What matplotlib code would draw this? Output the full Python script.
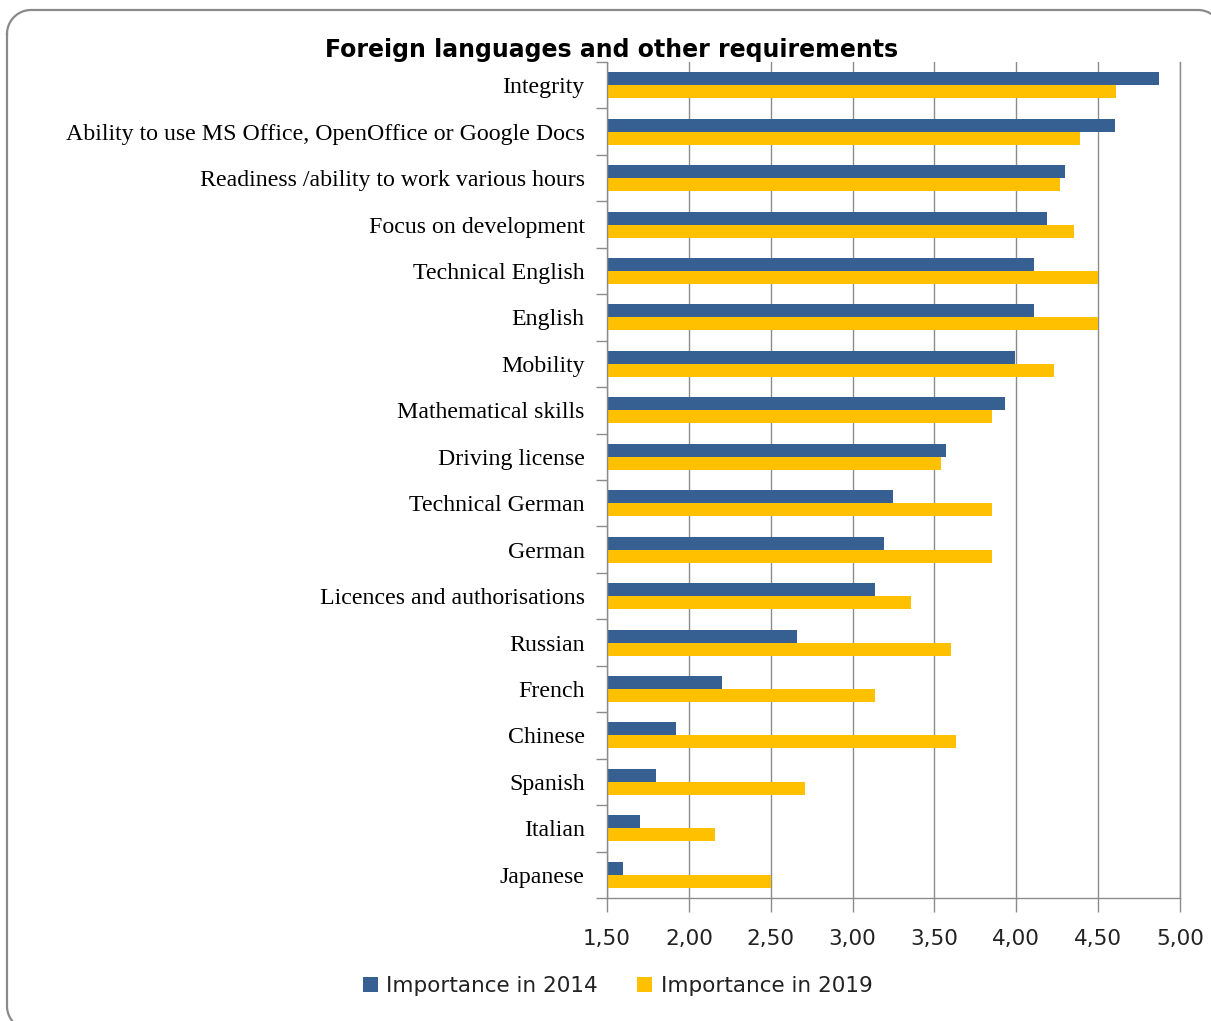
import numpy as np
import matplotlib
matplotlib.use('Agg')
import matplotlib.pyplot as plt
from matplotlib.lines import Line2D

# --------- data (top to bottom as listed)
categories = [
    'Integrity',
    'Ability to use MS Office, OpenOffice or Google Docs',
    'Readiness /ability to work various hours',
    'Focus on development',
    'Technical English',
    'English',
    'Mobility',
    'Mathematical skills',
    'Driving license',
    'Technical German',
    'German',
    'Licences and authorisations',
    'Russian',
    'French',
    'Chinese',
    'Spanish',
    'Italian',
    'Japanese',
]
importance_2014 = [4.87, 4.60, 4.30, 4.19, 4.11, 4.11, 3.99, 3.93, 3.57, 3.25, 3.19,
                   3.14, 2.66, 2.20, 1.92, 1.80, 1.70, 1.60]
importance_2019 = [4.61, 4.39, 4.27, 4.35, 4.50, 4.50, 4.23, 3.85, 3.54, 3.85, 3.85,
                   3.36, 3.60, 3.14, 3.63, 2.71, 2.16, 2.50]
x_ticks = [1.5, 2.0, 2.5, 3.0, 3.5, 4.0, 4.5, 5.0]
series_labels = ['Importance in 2014', 'Importance in 2019']

blue = '#376092'
yellow = '#ffc000'
grid_gray = '#8c8c8c'

W, H = 1211, 1021
fig = plt.figure(figsize=(W / 100, H / 100), dpi=100)
ax = fig.add_axes([0.5012, 0.1205, 0.4732, 0.8188])

n = len(categories)
y = np.arange(n)[::-1] + 0.5
h = 0.28
base = 1.5
ax.barh(y + h / 2, np.array(importance_2014) - base, left=base, height=h,
        color=blue, label=series_labels[0])
ax.barh(y - h / 2, np.array(importance_2019) - base, left=base, height=h,
        color=yellow, label=series_labels[1])

ax.set_xlim(1.5, 5.0)
ax.set_ylim(0, n)
ax.set_xticks(x_ticks)
ax.set_xticklabels([f'{t:.2f}'.replace('.', ',') for t in x_ticks],
                   fontsize=15.5, color='#222222')
ax.tick_params(axis='x', length=10, width=1, color=grid_gray, pad=12)

# category labels sit between the boundary ticks
ax.set_yticks(np.arange(n + 1))
ax.set_yticklabels([])
ax.set_yticks(y, minor=True)
ax.set_yticklabels(categories, minor=True, family='Liberation Serif', fontsize=17.2)
ax.tick_params(axis='y', which='major', length=8, width=1, color=grid_gray)
ax.tick_params(axis='y', which='minor', length=0, pad=16)

ax.xaxis.grid(True, color=grid_gray, linewidth=1)
ax.set_axisbelow(True)
ax.spines['top'].set_visible(False)
for side in ['left', 'bottom', 'right']:
    ax.spines[side].set_color(grid_gray)
    ax.spines[side].set_linewidth(1)

fig.text(0.505, 0.951, 'Foreign languages and other requirements',
         ha='center', va='center', fontsize=17, fontweight='bold')

fig.legend(loc='center', bbox_to_anchor=(0.51, 0.034), ncol=2, frameon=False,
           fontsize=15.5, handlelength=0.7, handleheight=0.7, handletextpad=0.4,
           columnspacing=1.8, labelcolor='#222222')

# rounded outer border (pixel coords from the top-left), running off right/bottom
x0, x1, y0, y1, r = 7, 1222, 10, 1030, 24
t = np.linspace(0, np.pi / 2, 30)
corners = [
    (x0 + r, y0 + r, np.pi),          # top-left
    (x1 - r, y0 + r, 1.5 * np.pi),    # top-right
    (x1 - r, y1 - r, 0.0),            # bottom-right
    (x0 + r, y1 - r, 0.5 * np.pi),    # bottom-left
]
px, py = [], []
for cx, cy, a0 in corners:
    a = a0 + t
    px.extend(cx + r * np.cos(a))
    py.extend(cy + r * np.sin(a))
px.append(px[0])
py.append(py[0])
fx = np.array(px) / W
fy = 1 - np.array(py) / H
fig.add_artist(Line2D(fx, fy, transform=fig.transFigure, color='#8a8a8a',
                      linewidth=1.6))

fig.savefig('out.png', dpi=100)
